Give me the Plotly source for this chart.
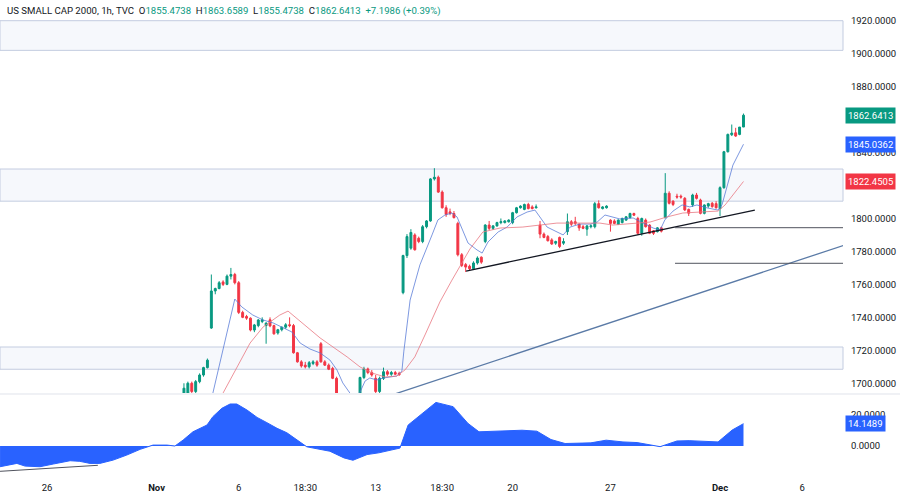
import plotly.graph_objects as go

# ---------------- data ----------------
bar_idx = list(range(34, 179))  # hourly bar positions (0 = first bar of Oct 26)
opens = [1688, 1690, 1693, 1700, 1695, 1701, 1705, 1709.5, 1733.5, 1756, 1757.5, 1761.5, 1760, 1765, 1766, 1761,
         1743, 1740.5, 1739.5, 1732.3, 1735, 1737.5, 1735, 1738.5, 1735, 1730.5, 1732.5, 1734, 1735.5, 1735, 1718.5,
         1713, 1711, 1710, 1712, 1713, 1724, 1713, 1711, 1709, 1703, 1692, 1687, 1688, 1685, 1683, 1688, 1703.5,
         1708.7, 1706.5, 1703, 1695, 1703, 1707, 1705.5, 1706.5, 1706, 1755, 1777.5, 1782, 1790, 1788, 1786, 1795,
         1798.5, 1824, 1825, 1816, 1806.5, 1804, 1803, 1797, 1778, 1772, 1771, 1769.5, 1773, 1776.5, 1786, 1796,
         1794, 1795.5, 1797.5, 1797.5, 1798, 1797.5, 1803.5, 1806.5, 1805.5, 1808.5, 1807, 1806.5, 1796, 1790.5,
         1789, 1787, 1785, 1788.5, 1785, 1792, 1798, 1798, 1796.5, 1795, 1793.5, 1795, 1795, 1809, 1806, 1806.5,
         1799, 1798.5, 1796.5, 1797.5, 1799, 1800.5, 1803, 1800, 1791, 1799, 1796, 1792.5, 1792, 1794.3, 1800.5,
         1815.3, 1810.5, 1813.5, 1813.5, 1812.2, 1805.5, 1808.2, 1814.2, 1811.2, 1803.1, 1807.5, 1809.2, 1809,
         1806, 1818.7, 1840.5, 1850.8, 1852, 1851, 1855.4738]
highs = [1692, 1700, 1701, 1701, 1702, 1706, 1710, 1715, 1766, 1758, 1762, 1762.5, 1766, 1770, 1767, 1762,
         1744, 1741.5, 1740, 1736, 1739, 1740, 1737, 1740, 1735.5, 1733, 1734.5, 1736.5, 1740, 1736, 1719,
         1714, 1713, 1713.5, 1714, 1714, 1725, 1714, 1712, 1710, 1704, 1694, 1690, 1692, 1688, 1690, 1704, 1710,
         1709.5, 1708, 1705, 1704, 1709.5, 1708, 1707.5, 1707.5, 1707, 1778, 1790.5, 1793.5, 1791, 1789, 1796, 1799,
         1824.5, 1830.5, 1826, 1817, 1808, 1806, 1804.5, 1798, 1779, 1773, 1772, 1774, 1777, 1777, 1796.5, 1798.5,
         1796, 1798, 1800, 1799, 1799.5, 1804, 1807, 1808, 1809, 1809.5, 1808, 1808.5, 1798.5, 1791.5,
         1790, 1788, 1786.5, 1789, 1788, 1803, 1799, 1801, 1797, 1796, 1796, 1796.5, 1810, 1811, 1807.5, 1808,
         1799.5, 1799.5, 1799.5, 1800.5, 1801.5, 1803.5, 1803.5, 1801, 1800.5, 1800, 1796.5, 1793, 1794.8, 1795, 1827.5,
         1816.5, 1811, 1815, 1814.5, 1813, 1806, 1815, 1815.5, 1812, 1808.5, 1809.5, 1810, 1810.5,
         1819.5, 1841, 1851.5, 1857, 1855, 1855.5, 1863.6589]
lows = [1685, 1688, 1690, 1693, 1694, 1700, 1704, 1709, 1733, 1754, 1757, 1759, 1759.5, 1763, 1760, 1742,
        1739.5, 1738.5, 1731.5, 1731, 1734, 1736.5, 1724, 1734, 1729.5, 1729.5, 1731.5, 1733, 1734, 1718, 1712.5,
        1709.5, 1709, 1709, 1711, 1710, 1712.5, 1710.5, 1708, 1702.5, 1690, 1685, 1684, 1682, 1680, 1682, 1687, 1702.5,
        1705.5, 1704, 1692, 1693, 1702, 1704.5, 1704.5, 1705, 1704.5, 1754, 1776, 1781, 1780.5, 1785, 1785, 1794,
        1798, 1823, 1815.5, 1806, 1801, 1802, 1800, 1777, 1770.5, 1767.5, 1768.5, 1769, 1772, 1772.5, 1785, 1793,
        1793, 1795, 1796.5, 1797, 1797.5, 1796.5, 1803, 1806, 1805, 1805.5, 1805.5, 1806, 1788, 1788,
        1786, 1784, 1784, 1782, 1784, 1790, 1795.5, 1796, 1792.5, 1793.5, 1789.5, 1794, 1794, 1806, 1805.5, 1806,
        1792, 1796.5, 1796, 1797, 1798.5, 1800, 1801.5, 1790, 1789.5, 1794.5, 1790.5, 1790, 1791.5, 1791.5, 1800,
        1808.5, 1807.5, 1812, 1812, 1804.5, 1801.5, 1807, 1811.5, 1802.5, 1802.5, 1806.5, 1806.5, 1806,
        1801.5, 1818, 1840, 1850, 1849.5, 1850.5, 1855.4738]
closes = [1690, 1697, 1700, 1695, 1701, 1705, 1709.5, 1714, 1756, 1757.5, 1761, 1760, 1765, 1766, 1761, 1743,
          1740, 1739.5, 1732.3, 1735.4, 1738.4, 1738.5, 1736.5, 1734.8, 1730, 1732.5, 1734, 1735.5, 1735, 1718.5, 1713,
          1710.5, 1710, 1712.5, 1713, 1711, 1713, 1711, 1708.5, 1703, 1692, 1687, 1688, 1685, 1683, 1688, 1703.5, 1708.7,
          1706.5, 1705, 1695, 1703, 1707, 1705.5, 1706.5, 1705.5, 1705.2, 1777.5, 1789, 1791.5, 1781, 1786, 1795, 1798.5,
          1824, 1825, 1816, 1806.5, 1802.5, 1803, 1800.5, 1778, 1771.5, 1770.5, 1769.5, 1773, 1776, 1773.5, 1796, 1794,
          1795.5, 1797.5, 1798, 1798.5, 1799, 1803.5, 1806.5, 1807.5, 1808.5, 1806, 1806, 1807, 1790.5, 1788.5,
          1786.5, 1784.5, 1786, 1783, 1786, 1798, 1796.5, 1797, 1794.3, 1794, 1795.5, 1795.5, 1809, 1806.5, 1807, 1807.5,
          1797, 1797, 1799, 1800, 1801, 1803, 1802, 1791, 1800, 1795, 1791, 1791, 1794.3, 1792.3, 1815.3,
          1809.2, 1808.5, 1813, 1813, 1805.2, 1803.2, 1814.2, 1812.2, 1803.1, 1808.2, 1809, 1807.2, 1806.5,
          1818.7, 1840.5, 1851, 1851.8, 1850, 1855.47, 1862.6413]

# fast moving average (blue) vertices
ma_fast_x = [41, 42.4, 48.0, 49.8, 52.6, 55.2, 57.8, 60.3, 62.6, 64.7, 67.2, 69.8, 72.3, 74.1, 75.6, 77.4, 78.7,
             79.5, 81.3, 82.5, 84.3, 85.9, 89.4, 90.7, 91.2, 92.8, 95.3, 98.4, 99.9, 101.7, 103.5, 104.8, 106.1,
             107.6, 109.9, 111.2, 112.7, 115.3, 117.6, 120.1, 122.7, 124.7, 127.8, 130.3, 131.9, 133.7, 136.2,
             138.8, 140.6, 142.6, 144.4, 146.4, 149.8, 152.3, 154.9, 156.7, 157.9, 160.0, 162.3, 164.3, 166.1,
             168.7, 171.5, 172.5, 174.0, 175.3, 178]
ma_fast_y = [1685, 1694.1, 1751.1, 1746.3, 1741.4, 1738.4, 1736.6, 1733.5, 1731.1, 1724.4, 1720.8, 1718.4, 1714.1,
             1708.1, 1700.2, 1694.1, 1689.9, 1692, 1701.4, 1703.2, 1702.0, 1703.2, 1704.4, 1707.4, 1719.5, 1750.5,
             1771.8, 1790.0, 1799.1, 1802.1, 1803.3, 1800.9, 1793.0, 1785.1, 1780.9, 1779.0, 1785.7, 1791.8,
             1794.8, 1800.9, 1803.9, 1805.1, 1794.8, 1791.8, 1790.0, 1794.8, 1796.6, 1796.6, 1797.8, 1802.1,
             1800.9, 1799.7, 1800.3, 1797.2, 1794.2, 1793.0, 1799.1, 1804.5, 1808.2, 1807.0, 1808.2, 1806.4,
             1805.1, 1808.2, 1820.3, 1832.4, 1845.0362]

# slow moving average (red) vertices
ma_slow_x = [43.7, 45.0, 48.6, 51.9, 55.2, 57.8, 59.5, 61.6, 63.4, 66.4, 69.8, 73.1, 76.7, 80.0, 83.1, 86.4, 89.4,
             91.5, 94.0, 96.6, 100.4, 103.5, 106.1, 108.1, 111.4, 115.8, 121.6, 126.0, 130.3, 135.4, 141.3, 144.6,
             149.8, 154.1, 158.4, 162.5, 166.9, 171.5, 173.3, 175.3, 178]
ma_slow_y = [1686.7, 1694.1, 1709.9, 1724.4, 1734.1, 1738.4, 1741.4, 1743.8, 1740.2, 1734.1, 1727.5, 1722.0, 1716.0,
             1709.9, 1706.2, 1703.8, 1704.4, 1708.1, 1716.0, 1729.3, 1749.3, 1762.6, 1773.0, 1781.5, 1791.8, 1794.2,
             1794.8, 1796.0, 1797.2, 1797.2, 1797.2, 1796.0, 1797.2, 1797.8, 1800.9, 1803.3, 1803.9, 1804.5,
             1808.2, 1814.2, 1822.4505]

# oscillator (lower pane) vertices
osc_x = [-12.0, -7.7, -5.6, -1.8, 1.6, 5.9, 8.4, 11.0, 13.5, 16.9, 20.4, 23.8, 27.1, 30.7, 32.7, 34.8, 37.3, 40.9, 42.4,
         44.7, 46.8, 48.5, 51.1, 53.7, 56.2, 58.8, 61.3, 63.9, 66.4, 72.3, 75.9, 78.2, 81.8, 84.8, 89.2, 90.2, 92.3,
         95.8, 99.4, 103.8, 107.6, 110.4, 117.0, 121.4, 125.2, 128.8, 132.4, 139.0, 142.9, 147.2, 150.8, 156.7,
         161.0, 164.1, 171.5, 175.1, 178]
osc_y = [-13.1, -11.0, -12.7, -13.1, -11.4, -9.3, -9.7, -11.0, -11.0, -8.9, -5.7, -2.1, 0.6, 0.6, 0.0, 3.8, 9.0,
         13.3, 18.6, 23.9, 26.6, 26.6, 22.8, 18.1, 14.8, 11.2, 8.4, 3.8, -0.5, -3.3, -7.5, -9.0, -5.4, -4.3, -2.2,
         -1.3, 13.3, 20.6, 27.6, 24.9, 14.3, 9.0, 9.4, 10.0, 9.4, 4.1, 1.6, 2.0, 3.7, 2.6, 2.2, -0.4, 3.2, 3.4,
         2.6, 10.1, 14.1489]

# drawings
support_x = [107.1, 180.9]
support_y = [1768.1, 1805.1]
trend_x = [88.0, 210.0]
trend_y = [1692.8, 1788.7]
level_x = [160.5, 205.0]
level_1 = 1794.4
level_2 = 1772.8
osc_line_x = [-12.0, 13.0]
osc_line_y = [-16.0, -12.2]
zones = [(1902.0, 1920.0), (1810.5, 1830.0), (1708.5, 1722.0)]

price_ticks = [1700, 1720, 1740, 1760, 1780, 1800, 1840, 1880, 1900, 1920]
tick_pos = [0, 28, 49, 66, 84, 101, 119, 144, 172, 193]
tick_txt = ["26", "<b>Nov</b>", "6", "18:30", "13", "18:30", "20", "27", "<b>Dec</b>", "6"]

last_close = 1862.6413
fast_last = 1845.0362
slow_last = 1822.4505
osc_last = 14.1489

# ---------------- figure ----------------
UP = "#089981"
DN = "#F23645"
TXT = "#131722"
FONT = "Roboto"
FS = 9.5

fig = go.Figure()

fig.add_trace(go.Candlestick(
    x=bar_idx, open=opens, high=highs, low=lows, close=closes,
    increasing=dict(line=dict(color=UP, width=1), fillcolor=UP),
    decreasing=dict(line=dict(color=DN, width=1), fillcolor=DN),
    whiskerwidth=0, showlegend=False, xaxis="x", yaxis="y", hoverinfo="skip"))

fig.add_trace(go.Scatter(x=ma_fast_x, y=ma_fast_y, mode="lines",
                         line=dict(color="rgba(82,117,214,0.75)", width=1), showlegend=False,
                         xaxis="x", yaxis="y", hoverinfo="skip"))
fig.add_trace(go.Scatter(x=ma_slow_x, y=ma_slow_y, mode="lines",
                         line=dict(color="rgba(232,120,130,0.8)", width=1), showlegend=False,
                         xaxis="x", yaxis="y", hoverinfo="skip"))

fig.add_trace(go.Scatter(x=support_x, y=support_y, mode="lines",
                         line=dict(color="#131722", width=1.3), showlegend=False,
                         xaxis="x", yaxis="y", hoverinfo="skip"))
fig.add_trace(go.Scatter(x=trend_x, y=trend_y, mode="lines",
                         line=dict(color="#5a7aa6", width=1.3), showlegend=False,
                         xaxis="x", yaxis="y", hoverinfo="skip"))
for lvl in (level_1, level_2):
    fig.add_trace(go.Scatter(x=level_x, y=[lvl, lvl], mode="lines",
                             line=dict(color="#50535e", width=1), showlegend=False,
                             xaxis="x", yaxis="y", hoverinfo="skip"))

fig.add_trace(go.Scatter(x=osc_x, y=osc_y, mode="lines", fill="tozeroy",
                         fillcolor="#2962FF", line=dict(color="#2962FF", width=1),
                         showlegend=False, xaxis="x2", yaxis="y2", hoverinfo="skip"))
fig.add_trace(go.Scatter(x=osc_line_x, y=osc_line_y, mode="lines",
                         line=dict(color="#50535e", width=1), showlegend=False,
                         xaxis="x2", yaxis="y2", hoverinfo="skip"))

shapes = []
for lo, hi in zones:
    shapes.append(dict(type="rect", xref="x domain", yref="y", x0=0, x1=1, y0=lo, y1=hi,
                       fillcolor="rgba(240,243,250,0.6)", line=dict(color="#c3cce0", width=1),
                       layer="below"))
shapes.append(dict(type="line", xref="paper", yref="paper", x0=0, x1=1.07, y0=0.1688, y1=0.1688,
                   line=dict(color="#e0e3eb", width=1)))
fig.update_layout(shapes=shapes)

RANGE_X = [-12.01, 203.43]
fig.update_layout(
    template="none",
    width=900, height=496,
    margin=dict(l=0, r=57, t=0, b=22, pad=0, autoexpand=False),
    paper_bgcolor="white", plot_bgcolor="white",
    font=dict(family=FONT, size=FS, color=TXT),
    showlegend=False,
    xaxis=dict(domain=[0, 1], anchor="y", range=RANGE_X, showgrid=False, zeroline=False, showline=False,
               showticklabels=False, ticks="", rangeslider=dict(visible=False), fixedrange=True,
               automargin=False),
    xaxis2=dict(domain=[0, 1], anchor="y2", range=RANGE_X, matches="x", showgrid=False, zeroline=False,
                showline=False, tickmode="array", tickvals=tick_pos, ticktext=tick_txt, ticks="outside",
                ticklen=5, tickcolor="white", tickfont=dict(size=FS, color=TXT), automargin=False),
    yaxis=dict(domain=[0.1709, 1], anchor="x", side="right", range=[1694.1, 1932.56], showgrid=False,
               zeroline=False, showline=False, tickmode="array", tickvals=price_ticks, tickformat=".4f",
               ticks="outside", ticklen=5, tickcolor="white", tickfont=dict(size=FS, color=TXT),
               automargin=False),
    yaxis2=dict(domain=[0, 0.1667], anchor="x2", side="right", range=[-17.7, 32.3], showgrid=False,
                zeroline=False, showline=False, tickmode="array", tickvals=[0, 20], tickformat=".4f",
                ticks="outside", ticklen=5, tickcolor="white", tickfont=dict(size=FS, color=TXT),
                automargin=False),
)

G = "<span style='color:#089981'>"
header = ("US SMALL CAP 2000, 1h, TVC&nbsp;&nbsp;O" + G + "1855.4738</span>&nbsp;&nbsp;H" + G + "1863.6589</span>"
          "&nbsp;&nbsp;L" + G + "1855.4738</span>&nbsp;&nbsp;C" + G + "1862.6413</span>&nbsp;&nbsp;" + G +
          "+7.1986 (+0.39%)</span>")
ann = [dict(xref="paper", yref="paper", x=0.006, y=1, xanchor="left", yanchor="top", yshift=-3,
            text=header, showarrow=False, font=dict(size=9.6, color=TXT, family=FONT))]
for val, col, yr in ((last_close, UP, "y"), (fast_last, "#2962FF", "y"), (slow_last, DN, "y"),
                     (osc_last, "#2962FF", "y2")):
    ann.append(dict(xref="paper", yref=yr, x=1, y=val, xanchor="left", yanchor="middle", xshift=2,
                    text="%.4f" % val, showarrow=False, bgcolor=col, borderpad=2,
                    font=dict(size=FS, color="white", family=FONT)))
fig.update_layout(annotations=ann)

fig.write_html("out.html", config={"displayModeBar": False, "staticPlot": True},
               post_script="document.body.style.margin='0';document.body.style.overflow='hidden';")
